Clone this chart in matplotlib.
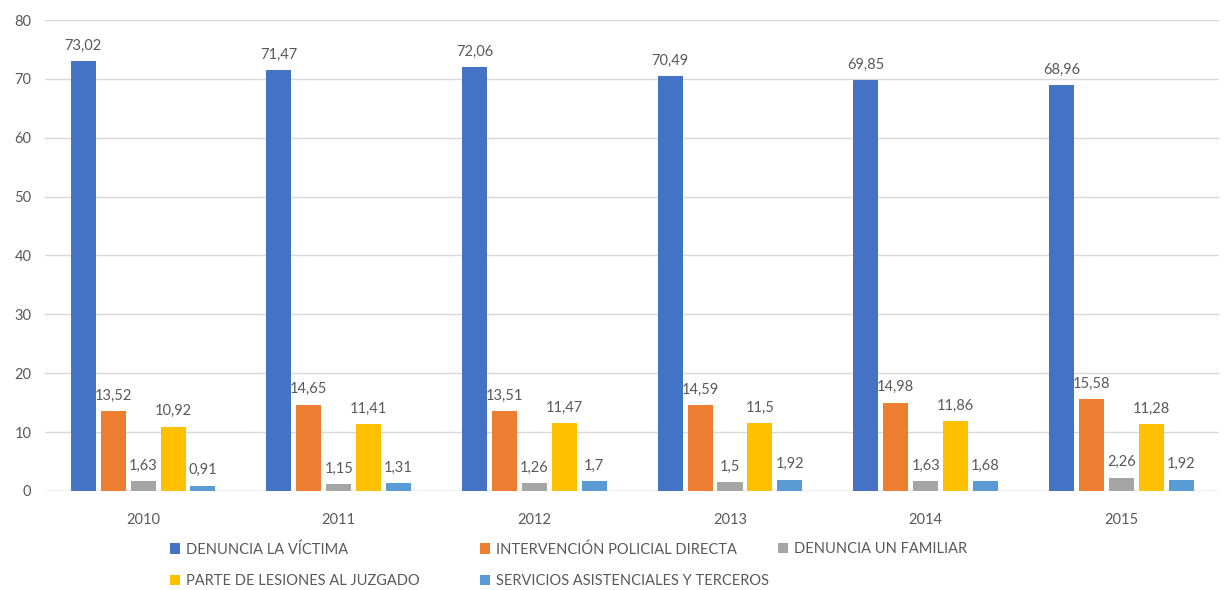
import numpy as np
import matplotlib.pyplot as plt

plt.rcParams['font.family'] = ['Lato', 'DejaVu Sans']

# Données
years = ['2010', '2011', '2012', '2013', '2014', '2015']
victima = [73.02, 71.47, 72.06, 70.49, 69.85, 68.96]
policial = [13.52, 14.65, 13.51, 14.59, 14.98, 15.58]
familiar = [1.63, 1.15, 1.26, 1.5, 1.63, 2.26]
lesiones = [10.92, 11.41, 11.47, 11.5, 11.86, 11.28]
servicios = [0.91, 1.31, 1.7, 1.92, 1.68, 1.92]

series = [
    ("DENUNCIA LA VÍCTIMA", victima, "#4472C4"),
    ("INTERVENCIÓN POLICIAL DIRECTA", policial, "#ED7D31"),
    ("DENUNCIA UN FAMILIAR", familiar, "#A5A5A5"),
    ("PARTE DE LESIONES AL JUZGADO", lesiones, "#FFC000"),
    ("SERVICIOS ASISTENCIALES Y TERCEROS", servicios, "#5B9BD5"),
]

fig = plt.figure(figsize=(12.24, 5.9), dpi=100)
ax = fig.add_axes([0.037, 0.168, 0.959, 0.798])

x = np.arange(len(years))
step = 0.153
width = 0.128
handles = []
for i, (name, vals, col) in enumerate(series):
    bars = ax.bar(x + (i - 2) * step, vals, width, color=col, label=name, zorder=3)
    labels = [("%g" % v).replace('.', ',') for v in vals]
    ax.bar_label(bars, labels=labels, padding=6, fontsize=10.5, color='#595959')
    handles.append(bars)

ax.set_ylim(0, 80)
ax.set_xlim(-0.5, len(years) - 0.5)
ax.set_yticks(range(0, 81, 10))
ax.set_xticks(x)
ax.set_xticklabels(years)
ax.tick_params(axis='both', length=0, labelsize=10.5, labelcolor='#595959')
ax.tick_params(axis='x', pad=16)
ax.tick_params(axis='y', pad=10)
ax.grid(axis='y', color='#D9D9D9', linewidth=1, zorder=0)
for s in ax.spines.values():
    s.set_visible(False)
ax.axhline(0, color='#D9D9D9', linewidth=1, zorder=2)

# légende : une colonne par légende, pour placer chaque colonne comme Excel
columns = [([0, 3], 170), ([1, 4], 480), ([2], 778)]
for idx, xpix in columns:
    fig.legend([handles[k] for k in idx], [series[k][0] for k in idx],
               ncol=1, loc='upper left', bbox_to_anchor=(xpix / 1224, 1 - 542 / 590),
               frameon=False, fontsize=10.5, labelcolor='#595959',
               handlelength=0.7, handleheight=0.7, handletextpad=0.4,
               labelspacing=1.2, borderpad=0, borderaxespad=0)

plt.savefig('out.png', dpi=100)
